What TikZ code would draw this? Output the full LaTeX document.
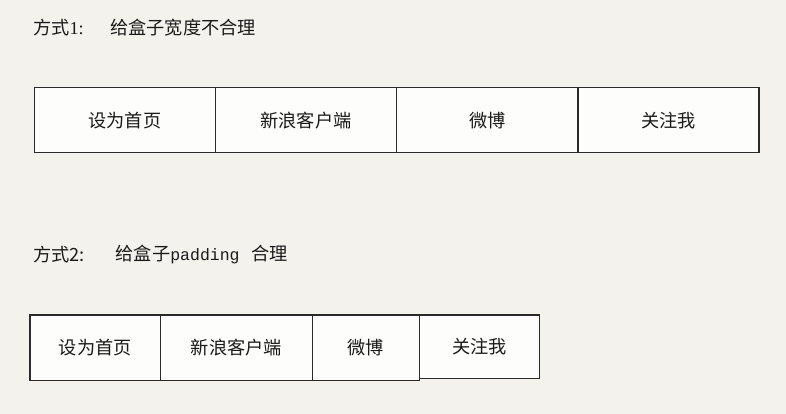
\documentclass[tikz,border=0pt]{standalone}
\usepackage{fontspec}
\setmainfont{Noto Sans CJK SC}
\newfontfamily\monofont{Liberation Mono}
\newfontfamily\serifnum{Liberation Serif}
\definecolor{bg}{HTML}{F4F2EC}
\definecolor{boxfill}{HTML}{FDFDFB}
\definecolor{ink}{HTML}{1A1A1A}
\definecolor{edge}{HTML}{2A2A2A}
\begin{document}
\begin{tikzpicture}[x=1pt,y=-1pt,
  txt/.style={font=\fontsize{18.2}{22}\selectfont, text=ink, inner sep=0pt},
  cell/.style={draw=edge, fill=boxfill, line width=1.5pt, anchor=north west,
    inner sep=0pt, font=\fontsize{18.2}{22}\selectfont, text=ink},
  cellA/.style={cell, minimum height=65pt, minimum width=181.2pt},
  cellB/.style={cell, minimum height=65.5pt}
]
\fill[bg] (0,0) rectangle (786,414);
\useasboundingbox (0,0) rectangle (786,414);

% heading 1
\node[txt, anchor=west] (h1) at (33,28) {方式\serifnum 1:};
\node[txt, anchor=west] (t1) at (110,28) {给盒子宽度不合理};

% row 1
\node[cellA] (a1) at (33.5,87) {设为首页};
\node[cellA] (a2) at (214.7,87) {新浪客户端};
\node[cellA] (a3) at (395.9,87) {微博};
\node[cellA] (a4) at (577.1,87) {关注我};

% heading 2
\node[txt, anchor=west] (h2) at (33,255) {方式2:};
\node[txt, anchor=west] (t2) at (115.5,255) {给盒子{\monofont\fontsize{16.5}{22}\selectfont padding}\hspace{12pt}合理};

% row 2
\node[cellB, minimum width=130.3pt] (b1) at (29.3,314) {设为首页};
\node[cellB, minimum width=151.9pt] (b2) at (159.6,314) {新浪客户端};
\node[cellB, minimum width=107.2pt] (b3) at (311.5,314) {微博};
\node[cell, minimum height=63.8pt, minimum width=120pt] (b4) at (418.7,314) {关注我};
\end{tikzpicture}
\end{document}
